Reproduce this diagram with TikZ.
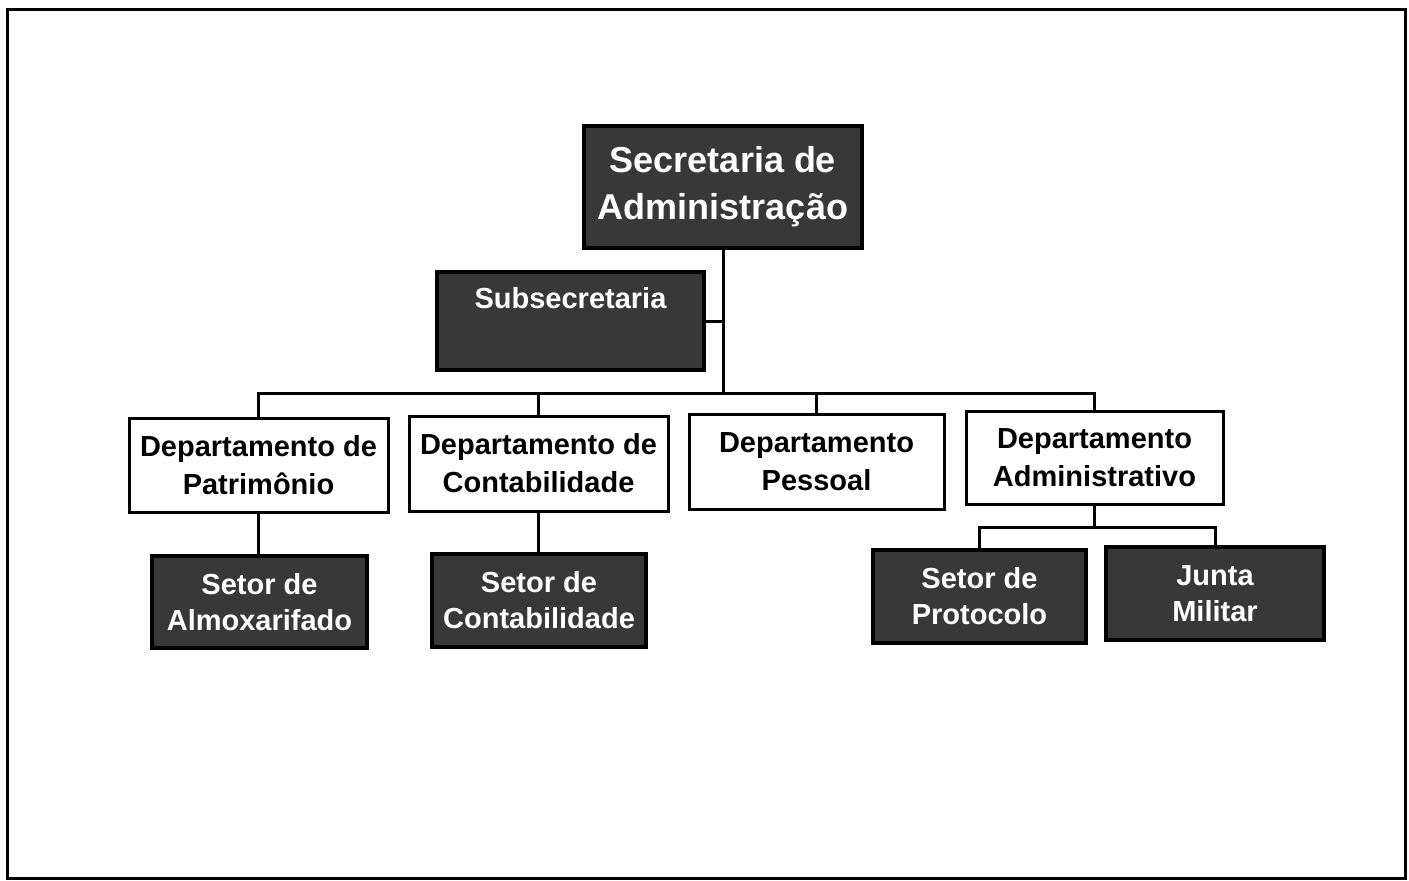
\documentclass[tikz,border=0pt]{standalone}
\usepackage{fontspec}
\setmainfont{Liberation Sans}
\tikzset{
  darkbox/.style={draw=black, line width=3.5pt, fill=black!78, text=white,
    font=\bfseries\fontsize{29}{36}\selectfont, align=center, inner sep=0pt},
  deptbox/.style={draw=black, line width=3pt, fill=white, text=black,
    font=\bfseries\fontsize{29}{38}\selectfont, align=center, inner sep=0pt},
  conn/.style={draw=black, line width=3pt},
  frame/.style={draw=black, line width=3pt}
}
\begin{document}
\begin{tikzpicture}[x=1pt,y=-1pt]
\useasboundingbox (0,0) rectangle (1409,881);
\draw[frame] (7,9) rectangle (1405,878);

\node[darkbox, minimum width=278pt, minimum height=122pt,
  font=\bfseries\fontsize{36}{47}\selectfont] (sec) at (723,187)
  {Secretaria de\\Administração};
\node[darkbox, minimum width=267pt, minimum height=98pt] (sub) at (570.5,321)
  {Subsecretaria\\\strut};

\node[deptbox, minimum width=259pt, minimum height=94pt] (patr) at (258.5,465)
  {Departamento de\\Patrimônio};
\node[deptbox, minimum width=259pt, minimum height=95pt] (cont) at (538.5,463.5)
  {Departamento de\\Contabilidade};
\node[deptbox, minimum width=255pt, minimum height=95pt] (pess) at (816.5,461.5)
  {Departamento\\Pessoal};
\node[deptbox, minimum width=257pt, minimum height=93pt] (adm) at (1094.5,457.5)
  {Departamento\\Administrativo};

\node[darkbox, minimum width=215pt, minimum height=92pt] (almox) at (259.5,602)
  {Setor de\\Almoxarifado};
\node[darkbox, minimum width=214pt, minimum height=93pt] (scont) at (539,600.5)
  {Setor de\\Contabilidade};
\node[darkbox, minimum width=213pt, minimum height=93pt] (prot) at (979.5,596.5)
  {Setor de\\Protocolo};
\node[darkbox, minimum width=218pt, minimum height=93pt] (junta) at (1215,593.5)
  {Junta\\Militar};

\coordinate (bus) at (723,393);
\coordinate (sbus) at (1094.5,527);

\draw[conn] (sec.south) -- (bus);
\draw[conn] (sub.east) -- (sub.east -| sec.south);
\draw[conn] (patr.north) |- (bus) -| (adm.north);
\draw[conn] (cont.north) -- (cont.north |- bus);
\draw[conn] (pess.north) -- (pess.north |- bus);
\draw[conn] (patr.south) -- (patr.south |- almox.north);
\draw[conn] (cont.south) -- (cont.south |- scont.north);
\draw[conn] (adm.south) -- (sbus);
\draw[conn] (prot.north) |- (sbus) -| (junta.north);
\end{tikzpicture}
\end{document}
